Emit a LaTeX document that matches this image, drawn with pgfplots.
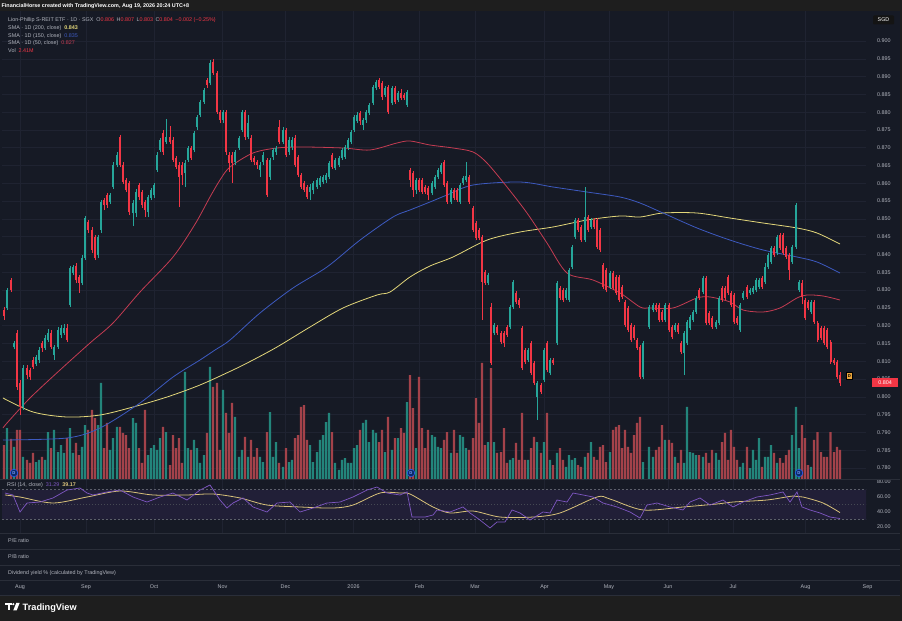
\documentclass[border=0pt]{standalone}
\usepackage{pgfplots}
\pgfplotsset{compat=1.18}
\usepackage{pgfplotstable}
\usepackage{fontspec}
\setmainfont{Liberation Sans}
\definecolor{bg}{HTML}{161A25}
\definecolor{hdr}{HTML}{1E1E1E}
\definecolor{gridc}{HTML}{1F2331}
\definecolor{sepc}{HTML}{2A2E39}
\definecolor{labc}{HTML}{B2B5BE}
\definecolor{upc}{HTML}{26A69A}
\definecolor{dnc}{HTML}{F23645}
\definecolor{volup}{HTML}{23857B}
\definecolor{voldn}{HTML}{A3424A}
\definecolor{smaA}{HTML}{E3D77A}
\definecolor{smaB}{HTML}{3D5AC0}
\definecolor{smaC}{HTML}{C43C52}
\definecolor{rsic}{HTML}{7E57C2}
\definecolor{rsima}{HTML}{D9C27A}
\definecolor{bandc}{HTML}{211F37}
\definecolor{dmark}{HTML}{0B2A6B}
\definecolor{dring}{HTML}{2962FF}
\definecolor{dlab}{HTML}{E8A33A}
\newcommand{\fs}{\fontsize{5.4bp}{6.4bp}\selectfont}

\pgfplotstableread{
x o h l c v
7 0.8250 0.8306 0.8244 0.8300 4.23
14 0.8140 0.8157 0.8135 0.8151 2.66
23 0.7972 0.8090 0.7963 0.8081 1.83
36 0.8093 0.8118 0.8088 0.8112 1.41
39 0.8104 0.8140 0.8095 0.8132 1.58
45 0.8137 0.8174 0.8132 0.8165 1.58
48 0.8160 0.8190 0.8154 0.8179 3.90
54 0.8118 0.8146 0.8104 0.8140 4.07
58 0.8140 0.8196 0.8135 0.8188 2.24
61 0.8174 0.8202 0.8165 0.8194 2.82
64 0.8179 0.8205 0.8174 0.8194 2.16
70 0.8258 0.8368 0.8253 0.8362 4.23
73 0.8348 0.8371 0.8342 0.8365 2.16
82 0.8320 0.8399 0.8314 0.8390 2.66
85 0.8390 0.8508 0.8385 0.8502 4.48
98 0.8399 0.8455 0.8390 0.8449 4.48
101 0.8469 0.8553 0.8460 0.8548 7.97
110 0.8548 0.8573 0.8542 0.8567 2.41
113 0.8590 0.8660 0.8584 0.8652 3.40
117 0.8652 0.8688 0.8646 0.8680 4.32
133 0.8517 0.8553 0.8480 0.8545 5.06
136 0.8517 0.8584 0.8505 0.8576 4.65
148 0.8519 0.8567 0.8505 0.8562 1.99
151 0.8559 0.8587 0.8553 0.8581 2.57
154 0.8567 0.8601 0.8559 0.8595 2.82
157 0.8638 0.8688 0.8632 0.8680 2.41
160 0.8694 0.8727 0.8688 0.8722 3.40
166 0.8716 0.8780 0.8710 0.8730 3.90
185 0.8629 0.8666 0.8590 0.8657 8.88
188 0.8666 0.8705 0.8660 0.8699 2.57
194 0.8694 0.8747 0.8688 0.8741 3.24
197 0.8758 0.8792 0.8750 0.8786 2.57
200 0.8792 0.8834 0.8786 0.8829 1.33
204 0.8829 0.8868 0.8823 0.8862 1.99
210 0.8882 0.8947 0.8876 0.8938 9.30
223 0.8778 0.8806 0.8770 0.8800 7.39
235 0.8660 0.8694 0.8652 0.8688 5.15
239 0.8699 0.8733 0.8694 0.8727 1.83
242 0.8750 0.8806 0.8744 0.8800 2.41
248 0.8730 0.8792 0.8725 0.8770 1.83
260 0.8638 0.8660 0.8618 0.8652 1.83
263 0.8660 0.8688 0.8652 0.8680 1.41
270 0.8618 0.8671 0.8609 0.8666 5.56
273 0.8674 0.8699 0.8666 0.8694 1.83
276 0.8688 0.8705 0.8680 0.8699 3.07
283 0.8716 0.8758 0.8710 0.8750 1.00
289 0.8688 0.8730 0.8680 0.8722 1.41
292 0.8702 0.8730 0.8694 0.8722 1.58
310 0.8576 0.8598 0.8553 0.8590 2.82
313 0.8581 0.8607 0.8570 0.8601 1.41
317 0.8590 0.8615 0.8584 0.8609 2.24
320 0.8595 0.8620 0.8590 0.8615 3.24
323 0.8604 0.8623 0.8598 0.8618 3.65
326 0.8609 0.8629 0.8601 0.8623 4.73
329 0.8618 0.8663 0.8612 0.8657 5.48
335 0.8643 0.8671 0.8638 0.8666 1.33
339 0.8652 0.8677 0.8646 0.8671 0.75
342 0.8671 0.8699 0.8666 0.8694 1.58
345 0.8674 0.8708 0.8668 0.8702 1.74
348 0.8699 0.8727 0.8694 0.8722 1.33
351 0.8716 0.8750 0.8710 0.8744 1.33
354 0.8750 0.8792 0.8744 0.8786 2.57
357 0.8775 0.8800 0.8770 0.8792 2.82
363 0.8764 0.8784 0.8750 0.8778 4.65
366 0.8778 0.8806 0.8770 0.8800 4.90
369 0.8798 0.8826 0.8792 0.8820 3.07
373 0.8826 0.8876 0.8820 0.8871 4.07
376 0.8868 0.8890 0.8862 0.8885 3.82
385 0.8848 0.8873 0.8843 0.8868 2.24
392 0.8826 0.8873 0.8820 0.8868 2.41
398 0.8834 0.8860 0.8829 0.8854 3.40
407 0.8820 0.8862 0.8815 0.8857 6.39
416 0.8581 0.8615 0.8570 0.8609 2.57
432 0.8573 0.8607 0.8567 0.8601 3.65
435 0.8590 0.8623 0.8584 0.8618 3.49
438 0.8618 0.8643 0.8612 0.8638 2.66
441 0.8632 0.8657 0.8626 0.8652 2.57
451 0.8548 0.8587 0.8542 0.8581 2.16
460 0.8548 0.8601 0.8542 0.8595 3.65
463 0.8601 0.8620 0.8595 0.8615 3.49
466 0.8609 0.8660 0.8603 0.8620 2.57
488 0.8320 0.8348 0.8314 0.8342 3.07
494 0.8179 0.8208 0.8173 0.8202 3.07
510 0.8196 0.8259 0.8190 0.8253 1.58
513 0.8253 0.8329 0.8247 0.8323 1.74
528 0.8104 0.8138 0.8098 0.8132 1.58
537 0.8000 0.8045 0.7935 0.8039 3.07
544 0.8047 0.8138 0.8041 0.8132 3.07
550 0.8067 0.8110 0.8061 0.8104 1.58
557 0.8151 0.8326 0.8145 0.8320 2.16
566 0.8278 0.8306 0.8272 0.8300 1.00
569 0.8272 0.8363 0.8266 0.8357 1.99
572 0.8365 0.8427 0.8359 0.8421 1.58
575 0.8449 0.8503 0.8443 0.8497 1.74
585 0.8441 0.8590 0.8435 0.8505 1.83
591 0.8477 0.8503 0.8471 0.8497 3.07
610 0.8309 0.8354 0.8303 0.8348 2.24
643 0.8056 0.8157 0.8050 0.8151 1.41
649 0.8196 0.8259 0.8190 0.8253 2.66
653 0.8244 0.8264 0.8238 0.8258 1.83
665 0.8216 0.8264 0.8210 0.8258 3.24
675 0.8188 0.8208 0.8182 0.8202 1.83
684 0.8123 0.8185 0.8061 0.8179 1.33
687 0.8151 0.8216 0.8145 0.8210 5.98
690 0.8194 0.8230 0.8188 0.8224 2.24
693 0.8216 0.8245 0.8210 0.8239 2.16
696 0.8239 0.8284 0.8233 0.8278 1.99
703 0.8295 0.8340 0.8289 0.8334 1.83
716 0.8196 0.8216 0.8190 0.8210 2.16
719 0.8208 0.8284 0.8202 0.8278 1.58
740 0.8188 0.8264 0.8182 0.8258 1.00
743 0.8278 0.8298 0.8272 0.8292 1.33
750 0.8292 0.8306 0.8286 0.8300 0.91
753 0.8295 0.8312 0.8289 0.8306 2.41
756 0.8300 0.8334 0.8294 0.8328 1.58
759 0.8309 0.8334 0.8303 0.8328 3.40
765 0.8323 0.8377 0.8317 0.8365 1.83
768 0.8365 0.8405 0.8359 0.8399 1.83
771 0.8379 0.8424 0.8373 0.8418 2.82
777 0.8404 0.8455 0.8398 0.8449 1.33
792 0.8379 0.8427 0.8373 0.8421 3.65
796 0.8421 0.8545 0.8415 0.8539 5.98
799 0.8300 0.8329 0.8294 0.8323 2.57
811 0.8239 0.8273 0.8233 0.8267 1.00
}\upd

\pgfplotstableread{
x o h l c v
4 0.8244 0.8253 0.8216 0.8227 2.82
11 0.8328 0.8334 0.8295 0.8300 3.32
17 0.8179 0.8188 0.8019 0.8028 4.07
20 0.8039 0.8047 0.7949 0.7972 4.07
27 0.8081 0.8090 0.8050 0.8061 1.58
30 0.8075 0.8081 0.8047 0.8056 1.33
33 0.8104 0.8112 0.8078 0.8084 2.16
42 0.8151 0.8157 0.8126 0.8137 1.83
51 0.8179 0.8188 0.8135 0.8140 2.57
67 0.8194 0.8205 0.8154 0.8160 3.40
76 0.8368 0.8376 0.8320 0.8328 2.99
79 0.8337 0.8342 0.8292 0.8320 1.99
88 0.8491 0.8497 0.8460 0.8469 4.07
92 0.8469 0.8477 0.8404 0.8413 5.73
95 0.8449 0.8455 0.8385 0.8390 5.06
104 0.8553 0.8560 0.8525 0.8539 2.57
107 0.8567 0.8573 0.8531 0.8539 4.65
120 0.8730 0.8736 0.8646 0.8652 4.32
123 0.8652 0.8660 0.8598 0.8604 3.82
126 0.8609 0.8615 0.8576 0.8581 3.65
129 0.8601 0.8607 0.8511 0.8519 2.57
139 0.8595 0.8601 0.8553 0.8562 2.57
142 0.8576 0.8581 0.8531 0.8539 1.33
145 0.8548 0.8553 0.8505 0.8525 5.73
163 0.8741 0.8750 0.8680 0.8688 4.32
170 0.8730 0.8760 0.8710 0.8716 1.16
173 0.8722 0.8730 0.8660 0.8666 3.65
176 0.8671 0.8677 0.8640 0.8646 2.57
179 0.8652 0.8660 0.8533 0.8618 3.40
182 0.8652 0.8660 0.8595 0.8623 1.33
191 0.8699 0.8705 0.8666 0.8671 2.41
207 0.8890 0.8896 0.8868 0.8876 3.82
213 0.8941 0.8950 0.8904 0.8910 7.64
217 0.8910 0.8915 0.8795 0.8800 7.97
220 0.8800 0.8806 0.8770 0.8778 2.41
226 0.8800 0.8806 0.8680 0.8688 5.48
229 0.8680 0.8688 0.8632 0.8657 3.82
232 0.8680 0.8688 0.8601 0.8657 6.31
245 0.8800 0.8806 0.8722 0.8730 3.49
251 0.8727 0.8736 0.8660 0.8666 3.24
254 0.8671 0.8677 0.8652 0.8660 1.83
257 0.8660 0.8666 0.8640 0.8652 2.57
267 0.8666 0.8671 0.8562 0.8567 3.90
279 0.8758 0.8778 0.8710 0.8716 1.33
286 0.8750 0.8756 0.8674 0.8680 2.57
295 0.8727 0.8736 0.8646 0.8652 3.40
298 0.8674 0.8680 0.8618 0.8623 3.65
301 0.8623 0.8629 0.8584 0.8590 5.98
304 0.8601 0.8607 0.8576 0.8581 6.14
307 0.8590 0.8595 0.8556 0.8562 3.24
332 0.8680 0.8686 0.8640 0.8646 3.90
360 0.8797 0.8803 0.8764 0.8775 4.07
379 0.8890 0.8896 0.8865 0.8871 3.07
382 0.8882 0.8887 0.8834 0.8843 4.07
388 0.8871 0.8876 0.8795 0.8800 5.15
395 0.8868 0.8873 0.8823 0.8829 3.40
401 0.8854 0.8865 0.8834 0.8840 4.23
404 0.8848 0.8854 0.8834 0.8840 3.82
410 0.8638 0.8643 0.8590 0.8609 8.63
413 0.8629 0.8635 0.8562 0.8581 5.89
419 0.8609 0.8615 0.8576 0.8581 8.47
422 0.8609 0.8615 0.8570 0.8576 4.23
425 0.8590 0.8595 0.8570 0.8576 2.57
428 0.8587 0.8592 0.8553 0.8567 4.07
444 0.8660 0.8666 0.8590 0.8595 3.24
447 0.8601 0.8607 0.8542 0.8548 3.90
454 0.8581 0.8587 0.8553 0.8559 4.07
457 0.8581 0.8587 0.8548 0.8553 2.16
469 0.8618 0.8623 0.8542 0.8548 2.41
473 0.8531 0.8536 0.8463 0.8469 3.40
476 0.8489 0.8494 0.8440 0.8446 6.72
479 0.8469 0.8474 0.8440 0.8446 4.65
482 0.8449 0.8455 0.8216 0.8323 9.63
485 0.8351 0.8357 0.8314 0.8320 2.82
491 0.8253 0.8264 0.8090 0.8095 9.21
497 0.8196 0.8202 0.8174 0.8179 2.16
501 0.8179 0.8185 0.8148 0.8154 2.24
504 0.8179 0.8185 0.8140 0.8151 4.23
507 0.8196 0.8202 0.8168 0.8174 1.33
516 0.8292 0.8298 0.8261 0.8267 2.99
519 0.8272 0.8278 0.8250 0.8258 1.58
522 0.8194 0.8200 0.8075 0.8081 5.48
525 0.8132 0.8138 0.8092 0.8098 1.58
531 0.8151 0.8157 0.8061 0.8067 2.57
534 0.8095 0.8101 0.8033 0.8039 3.49
541 0.8033 0.8039 0.8008 0.8014 2.16
547 0.8151 0.8157 0.8069 0.8075 5.48
553 0.8104 0.8110 0.8089 0.8095 1.16
560 0.8306 0.8312 0.8272 0.8278 2.57
563 0.8300 0.8306 0.8266 0.8272 1.58
578 0.8497 0.8503 0.8463 0.8469 1.16
581 0.8477 0.8483 0.8435 0.8441 1.00
588 0.8505 0.8511 0.8463 0.8469 2.16
594 0.8497 0.8503 0.8471 0.8477 1.83
597 0.8497 0.8503 0.8415 0.8421 1.58
600 0.8469 0.8475 0.8407 0.8413 2.66
603 0.8371 0.8377 0.8303 0.8309 2.82
606 0.8357 0.8363 0.8294 0.8300 1.41
613 0.8348 0.8354 0.8300 0.8306 4.07
616 0.8337 0.8343 0.8286 0.8292 4.32
619 0.8337 0.8343 0.8266 0.8272 4.48
622 0.8309 0.8315 0.8275 0.8281 2.57
625 0.8267 0.8273 0.8196 0.8202 4.07
628 0.8250 0.8256 0.8182 0.8188 2.66
631 0.8202 0.8208 0.8154 0.8160 2.16
634 0.8196 0.8202 0.8159 0.8165 3.65
637 0.8160 0.8166 0.8131 0.8137 4.65
640 0.8140 0.8146 0.8050 0.8056 5.15
656 0.8258 0.8264 0.8238 0.8244 2.41
659 0.8258 0.8264 0.8210 0.8216 2.66
662 0.8239 0.8245 0.8210 0.8216 4.48
669 0.8258 0.8264 0.8182 0.8188 3.24
672 0.8196 0.8202 0.8162 0.8168 2.99
678 0.8202 0.8208 0.8176 0.8182 1.33
681 0.8151 0.8157 0.8120 0.8126 2.41
699 0.8300 0.8306 0.8272 0.8278 1.99
706 0.8334 0.8340 0.8202 0.8208 2.16
709 0.8236 0.8242 0.8202 0.8208 1.33
712 0.8222 0.8228 0.8190 0.8196 2.41
722 0.8306 0.8312 0.8266 0.8272 3.07
725 0.8306 0.8312 0.8272 0.8278 3.82
728 0.8337 0.8343 0.8286 0.8292 1.58
731 0.8292 0.8298 0.8252 0.8258 4.07
734 0.8286 0.8292 0.8204 0.8210 2.66
737 0.8222 0.8228 0.8202 0.8208 1.58
747 0.8309 0.8315 0.8275 0.8281 2.66
762 0.8334 0.8340 0.8303 0.8309 1.00
774 0.8418 0.8424 0.8393 0.8399 2.16
780 0.8455 0.8461 0.8412 0.8418 1.74
783 0.8455 0.8461 0.8398 0.8404 1.33
786 0.8418 0.8424 0.8387 0.8393 1.99
789 0.8399 0.8405 0.8328 0.8357 2.41
802 0.8320 0.8328 0.8260 0.8281 4.48
805 0.8272 0.8278 0.8216 0.8222 3.40
808 0.8267 0.8273 0.8244 0.8250 1.16
814 0.8267 0.8273 0.8204 0.8210 3.24
817.5 0.8208 0.8214 0.8154 0.8160 3.90
821 0.8194 0.8200 0.8159 0.8165 2.24
824 0.8194 0.8200 0.8145 0.8151 1.83
827 0.8188 0.8194 0.8134 0.8140 1.83
830.5 0.8154 0.8160 0.8092 0.8098 3.90
834 0.8104 0.8110 0.8089 0.8095 2.24
837 0.8098 0.8104 0.8050 0.8056 2.66
840 0.8060 0.8070 0.8030 0.8040 2.41
}\dnd

\pgfplotstableread{
x y
3 0.79124
7 0.79264
30 0.79967
60 0.80754
90 0.81513
113 0.82075
140 0.82946
173 0.83930
195 0.84850
210 0.85616
220 0.86094
230 0.86459
253 0.86852
277 0.86993
303 0.87021
343 0.86993
370 0.86937
397 0.87134
410 0.87190
430 0.87077
453 0.86993
473 0.86881
487 0.86571
507 0.85897
527 0.85166
547 0.84323
567 0.83480
593 0.83283
620 0.82918
640 0.82525
650 0.82497
673 0.82497
697 0.82778
710 0.82806
730 0.82665
743 0.82440
763 0.82384
780 0.82497
797 0.82778
807 0.82862
823 0.82834
840 0.82721
}\smaCt

\pgfplotstableread{
x y
3 0.78787
67 0.78843
100 0.79124
140 0.79827
173 0.80557
200 0.81035
215 0.81316
230 0.81597
260 0.82356
293 0.83059
327 0.83649
360 0.84405
393 0.85054
410 0.85251
430 0.85475
447 0.85672
473 0.85953
520 0.86037
553 0.85897
587 0.85756
620 0.85616
640 0.85447
663 0.85166
697 0.84745
730 0.84405
763 0.84127
797 0.83930
817 0.83789
840 0.83480
}\smaBt

\pgfplotstableread{
x y
3 0.79967
33 0.79574
67 0.79433
100 0.79489
133 0.79714
167 0.79995
200 0.80333
233 0.80754
253 0.81035
277 0.81400
310 0.81962
343 0.82497
377 0.82862
390 0.82946
410 0.83368
430 0.83677
453 0.83930
487 0.84405
520 0.84632
553 0.84773
587 0.84969
620 0.85082
640 0.85054
663 0.85166
697 0.85166
730 0.85025
763 0.84885
797 0.84745
817 0.84604
840 0.84295
}\smaAt

\pgfplotstableread{
x y
5 65.3
13 62.7
20 40
27 52
40 53.3
53 58.7
67 69.3
80 72
87 65.3
93 62.7
107 66.7
120 69.3
133 60
147 53.3
160 60
173 65.3
187 56
200 69.3
210 76
220 56
227 45.3
233 52
243 58.7
253 46.7
267 40
277 52
290 53.3
300 40
313 45.3
327 52
340 53.3
353 60
367 69.3
377 73.3
387 65.3
400 62.7
407 66.7
412 33.3
425 33.3
433 36
437 42.7
450 40
463 46.7
470 38.7
480 29.3
490 18.7
497 26.7
505 26.7
512 42.7
520 38.7
530 29.3
543 40
550 38.7
557 56
567 53.3
573 65.3
583 62.7
593 60
603 52
617 46.7
630 40
640 32
647 49.3
657 52
670 46.7
683 42.7
690 53.3
700 58.7
710 49.3
723 56
733 46.7
743 53.3
757 60
770 62.7
783 66.7
790 53.3
797 66.7
802 46.7
810 42.7
820 38.7
830 33.3
840 31.3
}\rsit

\pgfplotstableread{
x y
5 62.7
20 60
53 52
87 60
120 68
153 62.7
187 62.7
213 64
240 58.7
267 49.3
300 46.7
333 45.3
353 49.3
380 65.3
400 65.3
410 64
433 46.7
450 38.7
473 41.3
500 33.3
533 33.3
560 38.7
597 60
610 57.3
643 42.7
683 46.7
717 50.7
733 53.3
767 56
793 61.3
803 60
823 52
840 39.2
}\rsimat

\begin{document}
\begin{tikzpicture}
\useasboundingbox (0bp,0bp) rectangle (902bp,621bp);
\fill[bg] (0bp,0bp) rectangle (902bp,621bp);
\fill[hdr] (0bp,610bp) rectangle (902bp,621bp);
\fill[hdr] (0bp,0bp) rectangle (902bp,25bp);
\fill[hdr] (900bp,0bp) rectangle (902bp,621bp);

% ---------- price pane: grid and price scale
\begin{axis}[at={(2bp,142bp)}, anchor=south west, scale only axis,
  width=864bp, height=468bp,
  xmin=2, xmax=866, ymin=0.776909, ymax=0.908431,
  axis line style={draw=none}, tick style={draw=none},
  xtick={20,86,154,222.5,285.5,353.5,419.5,475,544.5,609,668,733,805.5},
  xticklabels={},
  ytick={0.78,0.785,0.79,0.795,0.8,0.805,0.81,0.815,0.82,0.825,0.83,0.835,0.84,0.845,0.85,0.855,0.86,0.865,0.87,0.875,0.88,0.885,0.89,0.895,0.9},
  yticklabel pos=right, scaled y ticks=false,
  yticklabel style={font=\fs, text=labc, inner sep=0pt, anchor=west, xshift=11bp,
    /pgf/number format/.cd, fixed, fixed zerofill, precision=3, assume math mode=true},
  grid=major, grid style={draw=gridc, line width=0.5bp}]
\end{axis}

% ---------- volume
\begin{axis}[at={(2bp,142bp)}, anchor=south west, scale only axis,
  width=864bp, height=468bp,
  xmin=2, xmax=866, ymin=0, ymax=38.84, hide axis]
\addplot[ybar, bar width=2.2bp, bar shift=0pt, fill=volup, draw=none] table[x=x,y=v]{\upd};
\addplot[ybar, bar width=2.2bp, bar shift=0pt, fill=voldn, draw=none] table[x=x,y=v]{\dnd};
\addplot[only marks, mark=*, mark size=3.8bp, mark options={fill=dmark, draw=dring, line width=0.5bp}] coordinates {(14,0.5) (411,0.5) (799,0.5)};
\end{axis}

% ---------- candles and SMAs
\begin{axis}[at={(2bp,142bp)}, anchor=south west, scale only axis,
  width=864bp, height=468bp,
  xmin=2, xmax=866, ymin=0.776909, ymax=0.908431, hide axis]
\addplot[smaA, line width=0.8bp, mark=none, smooth] table[x=x,y=y]{\smaAt};
\addplot[smaB, line width=0.8bp, mark=none, smooth] table[x=x,y=y]{\smaBt};
\addplot[smaC, line width=0.8bp, mark=none, smooth] table[x=x,y=y]{\smaCt};
\addplot[color=upc, draw=none, mark=none, error bars/.cd, y dir=plus, y explicit, error mark=none,
  error bar style={draw=upc, line width=0.6bp}]
  table[x=x, y=l, y error expr=\thisrow{h}-\thisrow{l}]{\upd};
\addplot[color=dnc, draw=none, mark=none, error bars/.cd, y dir=plus, y explicit, error mark=none,
  error bar style={draw=dnc, line width=0.6bp}]
  table[x=x, y=l, y error expr=\thisrow{h}-\thisrow{l}]{\dnd};
\addplot[color=upc, draw=none, mark=none, error bars/.cd, y dir=plus, y explicit, error mark=none,
  error bar style={draw=upc, line width=2bp}]
  table[x=x, y=o, y error expr=\thisrow{c}-\thisrow{o}]{\upd};
\addplot[color=dnc, draw=none, mark=none, error bars/.cd, y dir=plus, y explicit, error mark=none,
  error bar style={draw=dnc, line width=2bp}]
  table[x=x, y=c, y error expr=\thisrow{o}-\thisrow{c}]{\dnd};
\addplot[only marks, mark=square*, mark size=3.2bp, mark options={fill=dlab, draw=none}] coordinates {(849.3,0.80594)};
\end{axis}

% ---------- RSI pane
\begin{axis}[at={(2bp,88bp)}, anchor=south west, scale only axis,
  width=864bp, height=53bp,
  xmin=2, xmax=866, ymin=12, ymax=82.67,
  axis line style={draw=none}, tick style={draw=none},
  xtick={20,86,154,222.5,285.5,353.5,419.5,475,544.5,609,668,733,805.5},
  xticklabels={},
  ytick={20,40,60,80}, yticklabel pos=right,
  yticklabel style={font=\fs, text=labc, inner sep=0pt, anchor=west, xshift=11bp,
    /pgf/number format/.cd, fixed, fixed zerofill, precision=2, assume math mode=true},
  xmajorgrids, grid style={draw=gridc, line width=0.5bp}]
\addplot[fill=bandc, draw=none] coordinates {(2,30) (866,30) (866,70) (2,70) (2,30)};
\addplot[draw=labc!45!bg, dash pattern=on 2bp off 2bp, line width=0.5bp] coordinates {(2,70) (866,70)};
\addplot[draw=labc!30!bg, dash pattern=on 1bp off 2bp, line width=0.4bp] coordinates {(2,50) (866,50)};
\addplot[draw=labc!45!bg, dash pattern=on 2bp off 2bp, line width=0.5bp] coordinates {(2,30) (866,30)};
\addplot[rsima, line width=0.8bp, mark=none, smooth] table[x=x,y=y]{\rsimat};
\addplot[rsic, line width=0.7bp, mark=none] table[x=x,y=y]{\rsit};
\end{axis}

% ---------- time axis
\begin{axis}[at={(2bp,37bp)}, anchor=south west, scale only axis,
  width=898bp, height=1bp,
  xmin=2, xmax=900, ymin=0, ymax=1,
  axis line style={draw=none}, tick style={draw=none}, ytick=\empty,
  xtick={20,86,154,222.5,285.5,353.5,419.5,475,544.5,609,668,733,805.5,867.5},
  xticklabels={Aug,Sep,Oct,Nov,Dec,2026,Feb,Mar,Apr,May,Jun,Jul,Aug,Sep},
  xticklabel style={font=\fs, text=labc, inner sep=0pt, yshift=-0.5bp}]
\end{axis}

% ---------- pane separators
\foreach \yy in {141.5,88,72,56,41,26}{
  \draw[sepc, line width=0.6bp] (0bp,\yy bp) -- (900bp,\yy bp);
}

% ---------- texts
\node[anchor=base west, inner sep=0, text=white, font=\fs\bfseries] at (1.5bp,613.3bp)
  {FinancialHorse created with TradingView.com, Aug 19, 2026 20:24 UTC+8};
\node[anchor=base west, inner sep=0, text=labc, font=\fs] at (8bp,599.7bp)
  {Lion-Phillip S-REIT ETF · 1D · SGX\hspace{3bp}O\textcolor{dnc}{0.806}\hspace{2.5bp}H\textcolor{dnc}{0.807}\hspace{2.5bp}L\textcolor{dnc}{0.803}\hspace{2.5bp}C\textcolor{dnc}{0.804}\hspace{2.5bp}\textcolor{dnc}{−0.002 (−0.25\%)}};
\node[anchor=base west, inner sep=0, text=labc, font=\fs] at (8bp,591.3bp)
  {SMA · 1D (200, close)\hspace{3bp}\textcolor{smaA}{\bfseries 0.843}};
\node[anchor=base west, inner sep=0, text=labc, font=\fs] at (8bp,583.8bp)
  {SMA · 1D (150, close)\hspace{3bp}\textcolor{smaB}{0.835}};
\node[anchor=base west, inner sep=0, text=labc, font=\fs] at (8bp,576.2bp)
  {SMA · 1D (50, close)\hspace{3bp}\textcolor{smaC}{0.827}};
\node[anchor=base west, inner sep=0, text=labc, font=\fs] at (8bp,568bp)
  {Vol\hspace{3bp}\textcolor{dnc}{2.41M}};
\node[anchor=base west, inner sep=0, text=labc, font=\fs] at (7bp,134bp)
  {RSI (14, close)\hspace{3bp}\textcolor{rsic}{31.29}\hspace{3bp}\textcolor{rsima}{\bfseries 39.17}};
\node[anchor=base west, inner sep=0, text=labc, font=\fs] at (8bp,78bp) {P/E ratio};
\node[anchor=base west, inner sep=0, text=labc, font=\fs] at (8bp,62bp) {P/B ratio};
\node[anchor=base west, inner sep=0, text=labc, font=\fs] at (8bp,46bp) {Dividend yield \% (calculated by TradingView)};

% markers' letters
\foreach \xx in {14,411,799}{
  \node[text=dring!60!white, font=\fontsize{4.2bp}{5bp}\selectfont\bfseries, inner sep=0] at (\xx bp,148bp) {D};
}
\node[text=black, font=\fontsize{4.2bp}{5bp}\selectfont\bfseries, inner sep=0] at (849.3bp,245.3bp) {D};

% right scale boxes
\node[fill=black!92, text=white, font=\fs, inner sep=0pt, minimum width=21bp, minimum height=9bp, rounded corners=1bp] at (883.5bp,601bp) {SGD};
\node[fill=dnc, text=white, font=\fs, inner sep=0pt, minimum width=26bp, minimum height=9bp] at (885bp,238.4bp) {0.804};

% TradingView logo
\fill[white] (5bp,18bp) rectangle (11.5bp,15.7bp);
\fill[white] (7.6bp,18bp) rectangle (10bp,10.5bp);
\fill[white] (13.3bp,16.8bp) circle (1.2bp);
\fill[white] (16.2bp,18bp) -- (19.6bp,18bp) -- (16.6bp,10.5bp) -- (13.2bp,10.5bp) -- cycle;
\node[anchor=base west, inner sep=0, text=white, font=\fontsize{9.2bp}{10bp}\selectfont\bfseries] at (22.5bp,10.4bp) {TradingView};
\end{tikzpicture}
\end{document}
